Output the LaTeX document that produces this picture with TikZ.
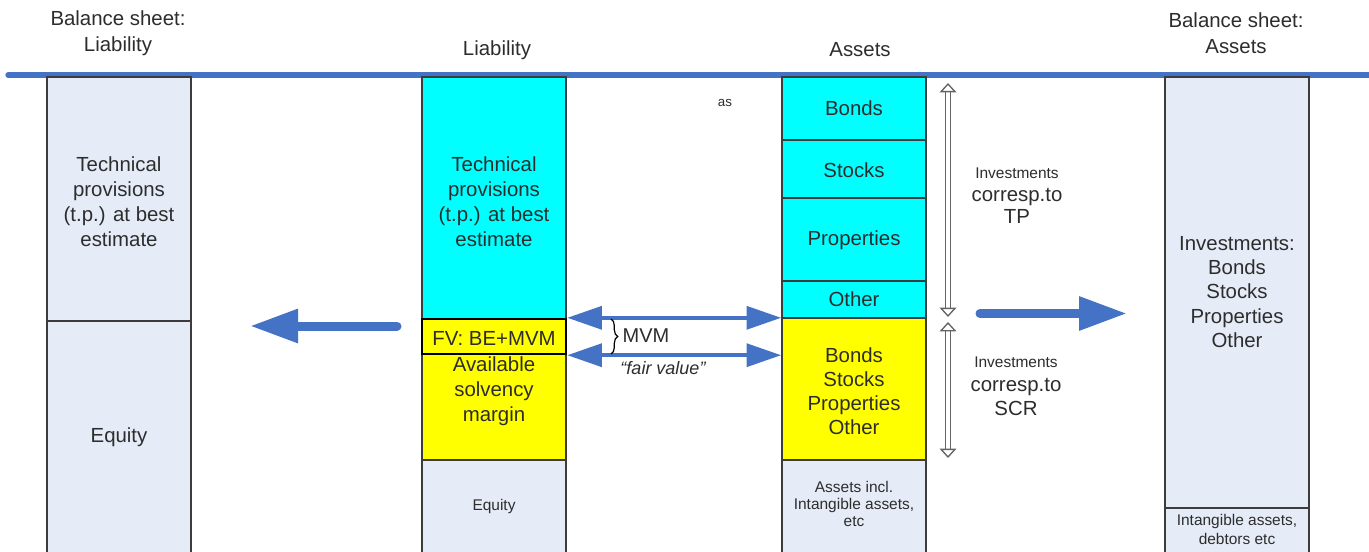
\documentclass[tikz,border=0pt]{standalone}
\usepackage{fontspec}
\setmainfont{Liberation Sans}
\usetikzlibrary{fit,arrows.meta,decorations.pathreplacing}
\definecolor{bline}{RGB}{68,114,196}
\definecolor{pale}{RGB}{230,236,247}
\definecolor{edge}{RGB}{60,60,60}
\definecolor{txt}{RGB}{45,45,45}
\definecolor{cyanbox}{RGB}{0,255,255}
\definecolor{yellowbox}{RGB}{255,255,0}
\definecolor{grayarrow}{RGB}{100,100,100}
\tikzset{
  cell/.style={draw=edge, line width=1.1pt, inner sep=0pt},
  lbl/.style={inner sep=0pt, align=center, text=txt, font=\fontsize{15.3}{18.75}\selectfont},
  small/.style={inner sep=0pt, align=center, text=txt, font=\fontsize{11.6}{12.75}\selectfont},
  head/.style={inner sep=0pt, align=center, text=txt, font=\fontsize{15.3}{19.5}\selectfont},
  bigarrow/.style={draw=bline, line width=6.75pt, line cap=round,
    -{Triangle[length=36pt,width=24pt]}},
  duoarrow/.style={draw=bline, line width=3.2pt,
    {Triangle[length=26pt,width=17pt]}-{Triangle[length=26pt,width=17pt]}},
  grayarrow/.style={draw=grayarrow, line width=1pt, double=white, double distance=2.4pt,
    {Triangle[open,length=7pt,width=12.5pt]}-{Triangle[open,length=7pt,width=12.5pt]}}
}
\begin{document}
\begin{tikzpicture}[x=0.75pt,y=-0.75pt]
\useasboundingbox[fill=white] (0,0) rectangle (1369,552);
% top rule
\coordinate (ruleL) at (8,75);
\coordinate (ruleR) at (1375,75);
\draw[bline, line width=4pt, line cap=round] (ruleL) -- (ruleR);

% headers
\node[head] (hbl) at (118,33) {Balance sheet:\\Liability};
\node[head] (hl) at (497,50) {Liability};
\node[head] (ha) at (860,50) {Assets};
\node[head] (hba) at (1236,33) {Balance sheet:\\Assets};

% left balance sheet
\node[cell, fill=pale, fit={(47,77) (191,321)}] (ltp) {};
\node[lbl] (ltpt) at (119,202) {Technical\\provisions\\(t.p.) at best\\estimate};
\node[cell, fill=pale, fit={(47,321) (191,565)}] (leq) {};
\node[lbl] (leqt) at (119,437) {Equity};

% liability column
\node[cell, fill=cyanbox, fit={(422,77) (566,319)}] (ctp) {};
\node[lbl] (ctpt) at (494,202) {Technical\\provisions\\(t.p.) at best\\estimate};
\node[cell, fill=yellowbox, fit={(422,354) (566,460)}] (asm) {};
\node[lbl] (asmt) at (494,391) {Available\\solvency\\margin};
\node[cell, fill=pale, fit={(422,460) (566,565)}] (ceq) {};
\node[small] (ceqt) at (494,506) {Equity};
\node[cell, fill=yellowbox, draw=black, line width=1.8pt, fit={(422,319) (566,354)}] (fv) {};
\node[lbl] (fvt) at (494,338) {FV: BE+MVM};

% assets column
\node[cell, fill=cyanbox, fit={(782,77) (926,140)}] (bonds) {};
\node[lbl] (bondst) at (854,108) {Bonds};
\node[cell, fill=cyanbox, fit={(782,140) (926,198)}] (stocks) {};
\node[lbl] (stockst) at (854,170) {Stocks};
\node[cell, fill=cyanbox, fit={(782,198) (926,281)}] (props) {};
\node[lbl] (propst) at (854,240) {Properties};
\node[cell, fill=cyanbox, fit={(782,281) (926,318)}] (other) {};
\node[lbl] (othert) at (854,299) {Other};
\node[cell, fill=yellowbox, fit={(782,318) (926,460)}] (ayel) {};
\node[lbl, font=\fontsize{15.3}{18}\selectfont] (ayelt) at (854,391) {Bonds\\Stocks\\Properties\\Other};
\node[cell, fill=pale, fit={(782,460) (926,565)}] (aincl) {};
\node[small] (ainclt) at (854,504) {Assets incl.\\Intangible assets,\\etc};

% right balance sheet
\node[cell, fill=pale, fit={(1165,77) (1309,508)}] (rinv) {};
\node[lbl, font=\fontsize{15.3}{18.2}\selectfont] (rinvt) at (1237,292) {Investments:\\Bonds\\Stocks\\Properties\\Other};
\node[cell, fill=pale, fit={(1165,508) (1309,565)}] (rint) {};
\node[small, font=\fontsize{11.6}{14.25}\selectfont] (rintt) at (1237,529.5) {Intangible assets,\\debtors etc};

% "as"
\node[small, font=\fontsize{10}{12}\selectfont] (as) at (725,103) {as};

% blue double arrows
\draw[duoarrow] (fv.north east) -- (fv.north east -| ayel.west);
\draw[duoarrow] (fv.south east) -- (fv.south east -| ayel.west);

% brace and labels
\coordinate (brT) at (611,319);
\coordinate (brB) at (611,354);
\draw[black, line width=0.9pt, decorate, decoration={brace, amplitude=5pt}] (brT) -- (brB);
\node[lbl, font=\fontsize{15}{18}\selectfont] (mvm) at (646,336) {MVM};
\node[lbl, font=\fontsize{13.5}{16}\selectfont\itshape] (fair) at (663,368) {“fair value”};

% big arrows
\coordinate (laS) at (397,326);
\coordinate (laE) at (250,326);
\draw[bigarrow] (laS) -- (laE);
\coordinate (raS) at (980,313.5);
\coordinate (raE) at (1127,313.5);
\draw[bigarrow] (raS) -- (raE);

% gray double arrows
\coordinate (g1T) at (948,83);
\coordinate (g1B) at (948,317);
\coordinate (g2T) at (948,322);
\coordinate (g2B) at (948,458);
\draw[grayarrow] (g1T) -- (g1B);
\draw[grayarrow] (g2T) -- (g2B);

% investment labels
\node[small] (inv1) at (1017,173) {Investments};
\node[head, font=\fontsize{15.3}{16.5}\selectfont] (cor1) at (1017,206) {corresp.to\\TP};
\node[small] (inv2) at (1016,362) {Investments};
\node[head, font=\fontsize{15.3}{18}\selectfont] (cor2) at (1016,397) {corresp.to\\SCR};
\end{tikzpicture}
\end{document}
